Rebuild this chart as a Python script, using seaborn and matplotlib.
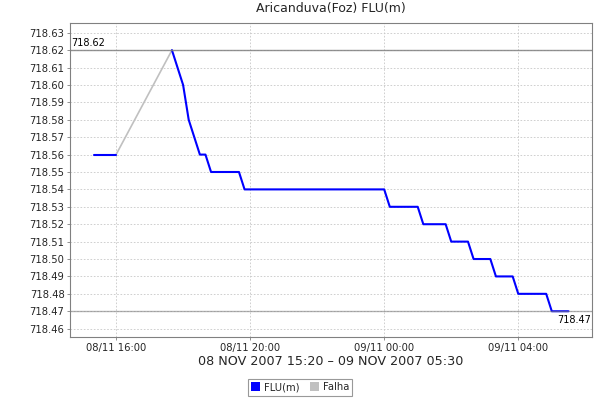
import matplotlib
matplotlib.use("Agg")
import matplotlib.pyplot as plt
import matplotlib.dates as mdates
from matplotlib.patches import Patch
from matplotlib.ticker import MultipleLocator, FormatStrFormatter
import pandas as pd
import seaborn as sns

# FLU(m) readings (vertices of the line)
flu_times = [
    "2007-11-08 15:20", "2007-11-08 16:00",
    "2007-11-08 17:40", "2007-11-08 18:00", "2007-11-08 18:10", "2007-11-08 18:30",
    "2007-11-08 18:40", "2007-11-08 18:50", "2007-11-08 19:40", "2007-11-08 19:50",
    "2007-11-09 00:00", "2007-11-09 00:10", "2007-11-09 01:00", "2007-11-09 01:10",
    "2007-11-09 01:50", "2007-11-09 02:00", "2007-11-09 02:30", "2007-11-09 02:40",
    "2007-11-09 03:10", "2007-11-09 03:20", "2007-11-09 03:50", "2007-11-09 04:00",
    "2007-11-09 04:50", "2007-11-09 05:00", "2007-11-09 05:30",
]
flu_values = [
    718.56, 718.56,
    718.62, 718.60, 718.58, 718.56,
    718.56, 718.55, 718.55, 718.54,
    718.54, 718.53, 718.53, 718.52,
    718.52, 718.51, 718.51, 718.50,
    718.50, 718.49, 718.49, 718.48,
    718.48, 718.47, 718.47,
]
# segment index: the gap between 16:00 and 17:40 splits the series
flu_segment = [0, 0] + [1] * 23

# Falha (gap) line
falha_times = ["2007-11-08 16:00", "2007-11-08 17:40"]
falha_values = [718.56, 718.62]

max_value = 718.62
min_value = 718.47

flu = pd.DataFrame({"time": pd.to_datetime(flu_times), "value": flu_values, "seg": flu_segment})
falha = pd.DataFrame({"time": pd.to_datetime(falha_times), "value": falha_values})

sns.set_theme(style="white")
plt.rcParams["font.family"] = ["DejaVu Sans"]

fig = plt.figure(figsize=(6, 4), dpi=100)
ax = fig.add_axes([70 / 600, 1 - 337 / 400, (592 - 70) / 600, (337 - 23) / 400])

sns.lineplot(data=falha, x="time", y="value", ax=ax, color="#c0c0c0", linewidth=1.2, zorder=2)
sns.lineplot(data=flu, x="time", y="value", units="seg", estimator=None, ax=ax,
             color="#0000ff", linewidth=1.5, zorder=3)

ax.axhline(max_value, color="#808080", linewidth=1.0, zorder=4, alpha=0.85)
ax.axhline(min_value, color="#808080", linewidth=1.0, zorder=4, alpha=0.6)

ax.set_xlim(pd.Timestamp("2007-11-08 14:37:30"), pd.Timestamp("2007-11-09 06:12"))
ax.set_ylim(718.4552, 718.6356)

ax.text(0.002, max_value + 0.0015, f"{max_value:.2f}", transform=ax.get_yaxis_transform(),
        ha="left", va="bottom", fontsize=7, color="black")
ax.text(0.998, min_value - 0.002, f"{min_value:.2f}", transform=ax.get_yaxis_transform(),
        ha="right", va="top", fontsize=7, color="black")

ax.yaxis.set_major_locator(MultipleLocator(0.01))
ax.yaxis.set_major_formatter(FormatStrFormatter("%.2f"))
ax.xaxis.set_major_locator(mdates.HourLocator(byhour=range(0, 24, 4)))
ax.xaxis.set_major_formatter(mdates.DateFormatter("%d/%m %H:%M"))

ax.grid(True, color="#c8c8c8", linestyle=(0, (2, 2)), linewidth=0.6)
ax.tick_params(axis="both", labelsize=7.2, length=2, width=0.6, color="#808080", pad=2,
               bottom=True, left=True)
for side, sp in ax.spines.items():
    sp.set_color("#808080")
    sp.set_linewidth(0.8)

ax.set_ylabel("")
ax.set_xlabel("08 NOV 2007 15:20 \u2013 09 NOV 2007 05:30", fontsize=9.2, labelpad=2)
ax.set_title("Aricanduva(Foz) FLU(m)", fontsize=9, pad=8)

handles = [Patch(facecolor="#0000ff", edgecolor="none", label="FLU(m)"),
           Patch(facecolor="#c0c0c0", edgecolor="none", label="Falha")]
leg = fig.legend(handles=handles, loc="center", bbox_to_anchor=(0.5, 1 - 387 / 400), ncol=2,
                 fontsize=7.2, frameon=True, fancybox=False, handlelength=0.9, handleheight=0.9,
                 handletextpad=0.4, columnspacing=1.0, borderpad=0.35, borderaxespad=0)
leg.get_frame().set_edgecolor("#808080")
leg.get_frame().set_linewidth(0.8)

fig.savefig("out.png", dpi=100)
